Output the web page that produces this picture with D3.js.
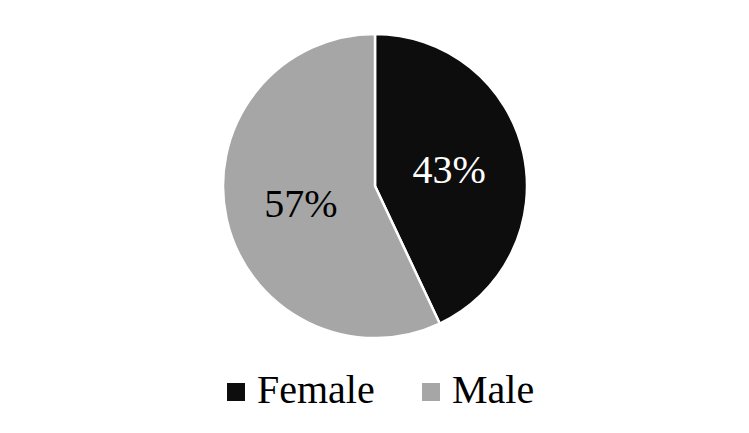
<!DOCTYPE html>
<html>
<head>
<meta charset="utf-8">
<script src="https://cdn.jsdelivr.net/npm/d3@7"></script>
<style>
  body { margin: 0; background: #fff; }
  svg text { font-family: "Liberation Serif", "Times New Roman", serif; }
</style>
</head>
<body>
<svg class="chart" width="749" height="433"></svg>
<script>
var categories = ['Female', 'Male'];
var shares = [43, 57];
var colors = ['#0d0d0d', '#a6a6a6'];
var labelColors = ['#ffffff', '#000000'];

var width = 749, height = 433;
var cx = 375, cy = 186, radius = 152;

var data = categories.map((c, i) => ({ name: c, value: shares[i] }));

var pie = d3.pie().sort(null).value(d => d.value);
var arc = d3.arc().innerRadius(0).outerRadius(radius);
var labelArc = d3.arc().innerRadius(radius * 0.5).outerRadius(radius * 0.5);

const svg = d3.select('.chart');

const g = svg.append('g')
  .attr('transform', `translate(${cx},${cy})`);

// slices
g.selectAll('path')
  .data(pie(data))
  .join('path')
  .attr('d', arc)
  .style('fill', (d, i) => colors[i])
  .style('stroke', '#fff')
  .style('stroke-width', 2.5);

// percent labels
g.selectAll('text')
  .data(pie(data))
  .join('text')
  .attr('transform', d => `translate(${labelArc.centroid(d)})`)
  .attr('text-anchor', 'middle')
  .attr('dy', '0.35em')
  .style('font-size', '40px')
  .style('fill', (d, i) => labelColors[i])
  .text(d => d.data.value + '%');

// legend
var legendX = d3.scalePoint().domain(categories).range([227, 422]);

const legend = svg.append('g')
  .selectAll('g')
  .data(categories)
  .join('g')
  .attr('transform', d => `translate(${legendX(d)},383)`);

legend.append('rect')
  .attr('width', 18)
  .attr('height', 18)
  .style('fill', (d, i) => colors[i]);

legend.append('text')
  .attr('x', 30)
  .attr('y', 20)
  .style('font-size', '40px')
  .style('fill', '#000')
  .text(d => d);
</script>
</body>
</html>
